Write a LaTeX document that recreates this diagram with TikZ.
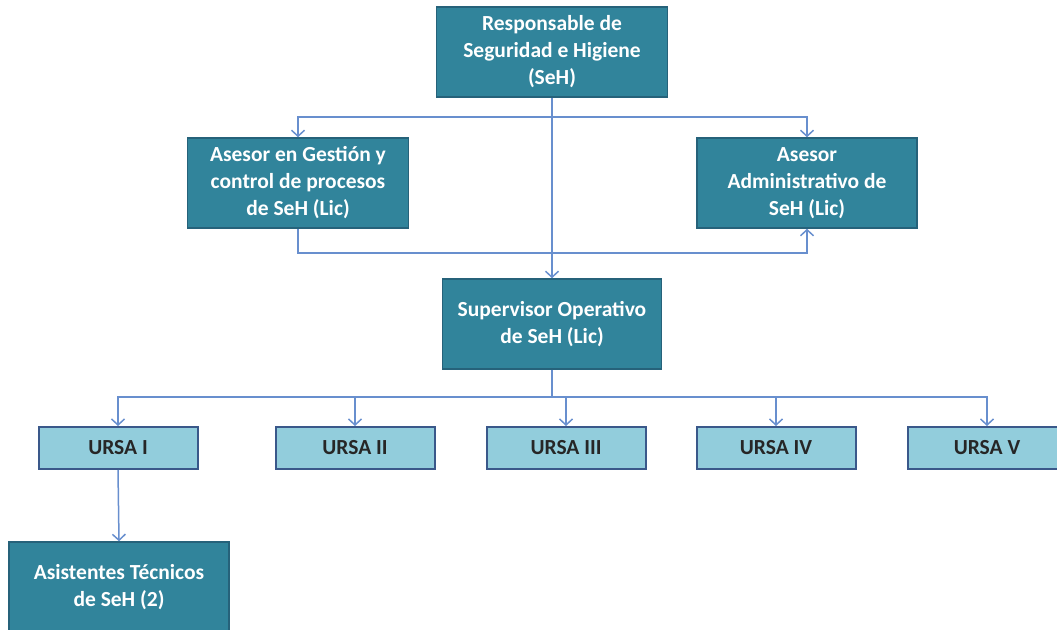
\documentclass[tikz,border=0pt]{standalone}
\usepackage{fontspec}
\setmainfont{Carlito}
\usetikzlibrary{arrows.meta,positioning}
\usepackage{xcolor}
\definecolor{boxteal}{RGB}{49,132,155}
\definecolor{tealedge}{RGB}{38,98,122}
\definecolor{boxlight}{RGB}{146,205,220}
\definecolor{lightedge}{RGB}{58,88,138}
\definecolor{linkblue}{RGB}{104,143,206}

\tikzset{ darkbox/.style={ draw=tealedge, fill=boxteal, text=white, line width=1.5pt
                         , font=\bfseries\fontsize{21.5}{27}\selectfont, align=center
                         , minimum width=221pt, minimum height=90pt, inner sep=0pt }
        , lightbox/.style={ draw=lightedge, fill=boxlight, text=black!85, line width=2pt
                          , font=\bfseries\fontsize{21.5}{27}\selectfont
                          , minimum width=159pt, minimum height=42pt, inner sep=0pt }
        , conn/.style={ draw=linkblue, line width=1.5pt
                      , -{Straight Barb[length=6pt,width=13pt]} }
        , plain/.style={ draw=linkblue, line width=1.5pt }
        }

\begin{document}
\begin{tikzpicture}[ x=1pt, y=-1pt
                   , semithick
                   ]

      \useasboundingbox (0,0) rectangle (1057,629);

      % upper levels
      \node (resp) [darkbox, minimum width=231pt] at (552,52)
            {Responsable de\\Seguridad e Higiene\\(SeH)};
      \node (gestion) [darkbox] at (298,183)
            {Asesor en Gesti\'on y\\control de procesos\\de SeH (Lic)};
      \node (admin) [darkbox, minimum width=220pt] at (807,183)
            {Asesor\\Administrativo de\\SeH (Lic)};
      \node (super) [darkbox, minimum width=219pt] at (552,324)
            {Supervisor Operativo\\de SeH (Lic)};

      % URSA row
      \node (ursaI)   [lightbox] at (118,448) {URSA I};
      \node (ursaII)  [lightbox] at (355,448) {URSA II};
      \node (ursaIII) [lightbox] at (566,448) {URSA III};
      \node (ursaIV)  [lightbox] at (776,448) {URSA IV};
      \node (ursaV)   [lightbox] at (987,448) {URSA V};

      \node (asist) [darkbox, minimum width=220pt] at (119,587)
            {Asistentes T\'ecnicos\\de SeH (2)};

      % connectors
      \coordinate (splitA) at (552,117);
      \coordinate (loopA)  at (552,253);
      \coordinate (splitB) at (552,397);

      \draw [conn] (resp.south) -- (super.north);
      \draw [conn] (splitA) -| (gestion.north);
      \draw [conn] (splitA) -| (admin.north);
      \draw [conn] (gestion.south) |- (loopA) -| (admin.south);

      \draw [plain] (super.south) -- (splitB);
      \foreach \u in {ursaI,ursaII,ursaIII,ursaIV,ursaV}
        \draw [conn] (splitB) -| (\u.north);

      \draw [conn] (ursaI.south) -- (asist.north);

  \end{tikzpicture}
\end{document}
